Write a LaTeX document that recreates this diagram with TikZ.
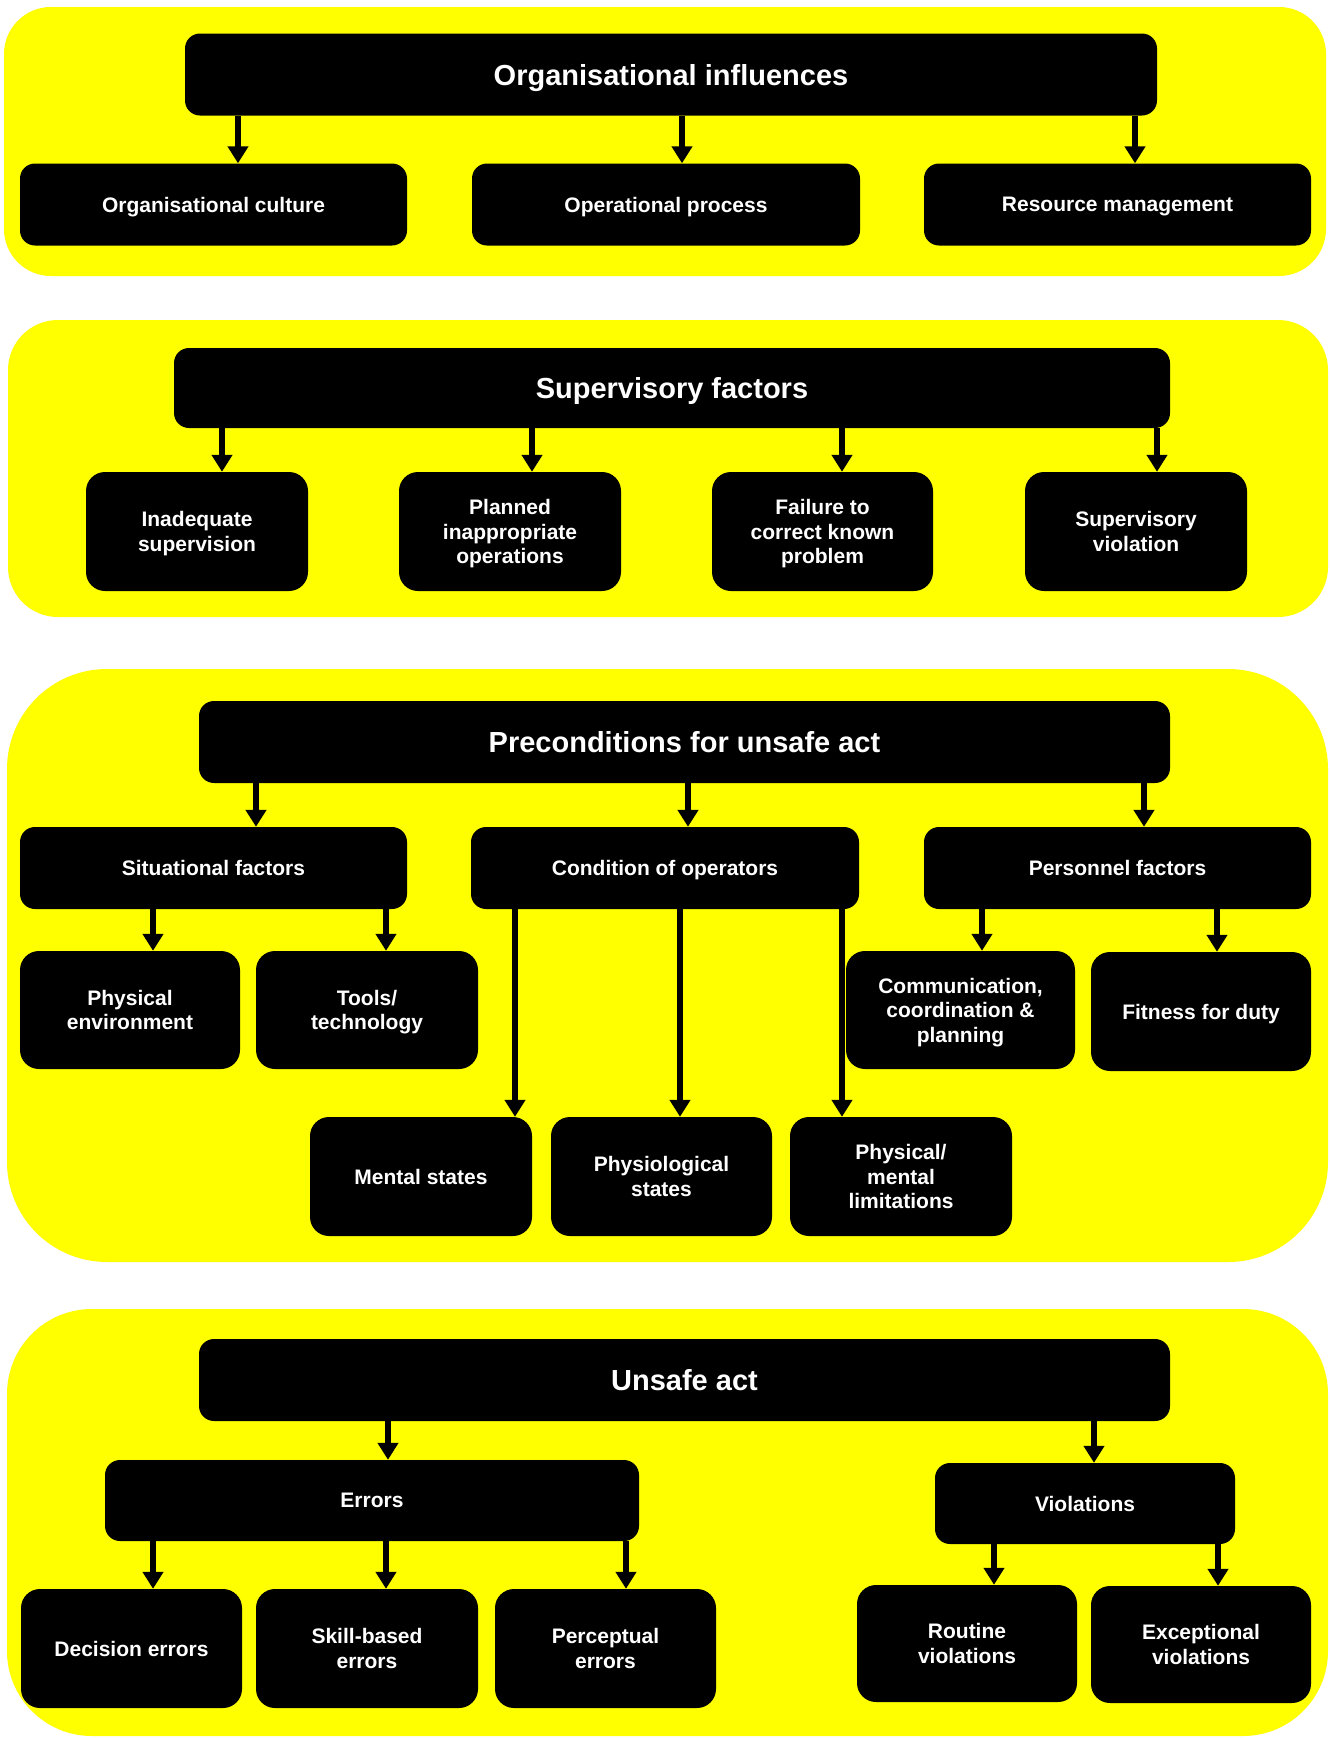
\documentclass[tikz,border=0pt]{standalone}
\usepackage{fontspec}
\setmainfont{Liberation Sans}
\usepackage{tikz}
\usetikzlibrary{arrows.meta,positioning}
\definecolor{panelyellow}{RGB}{255,255,0}

\begin{document}
\begin{tikzpicture}[x=1pt,y=-1pt,
    panel/.style={fill=panelyellow},
    box/.style={fill=black,text=white,rounded corners=15pt,inner sep=0pt,align=center,
      font=\bfseries\fontsize{21}{24.5}\selectfont,text depth=-2.2pt},
    head/.style={box,minimum height=82pt,font=\bfseries\fontsize{29}{34}\selectfont,text depth=-0.5pt},
    tall/.style={box,minimum height=119pt,rounded corners=19pt},
    low/.style={box,minimum height=82pt},
    arr/.style={line width=6.5pt,-{Triangle[width=20pt,length=17pt]}}]
  \useasboundingbox (0,0) rectangle (1330,1738);

  \fill[panel,rounded corners=47pt] (4,7) rectangle (1326,276);
  \fill[panel,rounded corners=50pt] (8,320) rectangle (1328,617);
  \fill[panel,rounded corners=100pt] (7,669) rectangle (1328,1262);
  \fill[panel,rounded corners=85pt] (7,1309) rectangle (1328,1736);

  \node[head,minimum width=972pt] (oi) at (671,74.5) {Organisational influences};
  \node[low,minimum width=387pt] (oc) at (213.5,204.5) {Organisational culture};
  \node[low,minimum width=388pt] (op) at (666,204.5) {Operational process};
  \node[low,minimum width=387pt] (rm) at (1117.5,204.5) {Resource management};

  \node[head,minimum width=996pt,minimum height=80pt] (sf) at (672,388) {Supervisory factors};
  \node[tall,minimum width=222pt] (is) at (197,531.5) {Inadequate\\supervision};
  \node[tall,minimum width=222pt] (pio) at (510,531.5) {Planned\\inappropriate\\operations};
  \node[tall,minimum width=221pt] (fc) at (822.5,531.5) {Failure to\\correct known\\problem};
  \node[tall,minimum width=222pt] (sv) at (1136,531.5) {Supervisory\\violation};

  \node[head,minimum width=971pt] (pc) at (684.5,742) {Preconditions for unsafe act};
  \node[low,minimum width=387pt] (sit) at (213.5,868) {Situational factors};
  \node[low,minimum width=388pt] (co) at (665,868) {Condition of operators};
  \node[low,minimum width=387pt] (pf) at (1117.5,868) {Personnel factors};
  \node[tall,minimum width=220pt,minimum height=118pt] (pe) at (130,1010) {Physical\\environment};
  \node[tall,minimum width=222pt,minimum height=118pt] (tt) at (367,1010) {Tools/\\technology};
  \node[tall,minimum width=229pt,minimum height=118pt] (ccp) at (960.5,1010) {Communication,\\coordination \&\\planning};
  \node[tall,minimum width=220pt] (ffd) at (1201,1011.5) {Fitness for duty};
  \node[tall,minimum width=222pt] (ms) at (421,1176.5) {Mental states};
  \node[tall,minimum width=221pt] (ps) at (661.5,1176.5) {Physiological\\states};
  \node[tall,minimum width=222pt] (pml) at (901,1176.5) {Physical/\\mental\\limitations};

  \node[head,minimum width=971pt] (ua) at (684.5,1380) {Unsafe act};
  \node[low,minimum width=534pt,minimum height=81pt] (err) at (372,1500.5) {Errors};
  \node[low,minimum width=300pt,minimum height=81pt] (vio) at (1085,1503.5) {Violations};
  \node[tall,minimum width=221pt] (de) at (131.5,1648.5) {Decision errors};
  \node[tall,minimum width=222pt] (sbe) at (367,1648.5) {Skill-based\\errors};
  \node[tall,minimum width=221pt] (pce) at (605.5,1648.5) {Perceptual\\errors};
  \node[tall,minimum width=220pt,minimum height=117pt] (rv) at (967,1643.5) {Routine\\violations};
  \node[tall,minimum width=220pt,minimum height=117pt] (ev) at (1201,1644.5) {Exceptional\\violations};

  \foreach \p/\c/\x in {oi/oc/238,oi/op/682,oi/rm/1135,
      sf/is/222,sf/pio/532,sf/fc/842,sf/sv/1157,
      pc/sit/256,pc/co/688,pc/pf/1144,sit/pe/153,sit/tt/386,
      co/ms/515,co/ps/680,co/pml/842,pf/ccp/982,pf/ffd/1217,
      ua/err/388,ua/vio/1094,err/de/153,err/sbe/386,err/pce/626,
      vio/rv/994,vio/ev/1218}{
    \coordinate (ax) at (\x,0);
    \draw[arr] (\p.south -| ax) -- (\c.north -| ax);
  }
\end{tikzpicture}
\end{document}
